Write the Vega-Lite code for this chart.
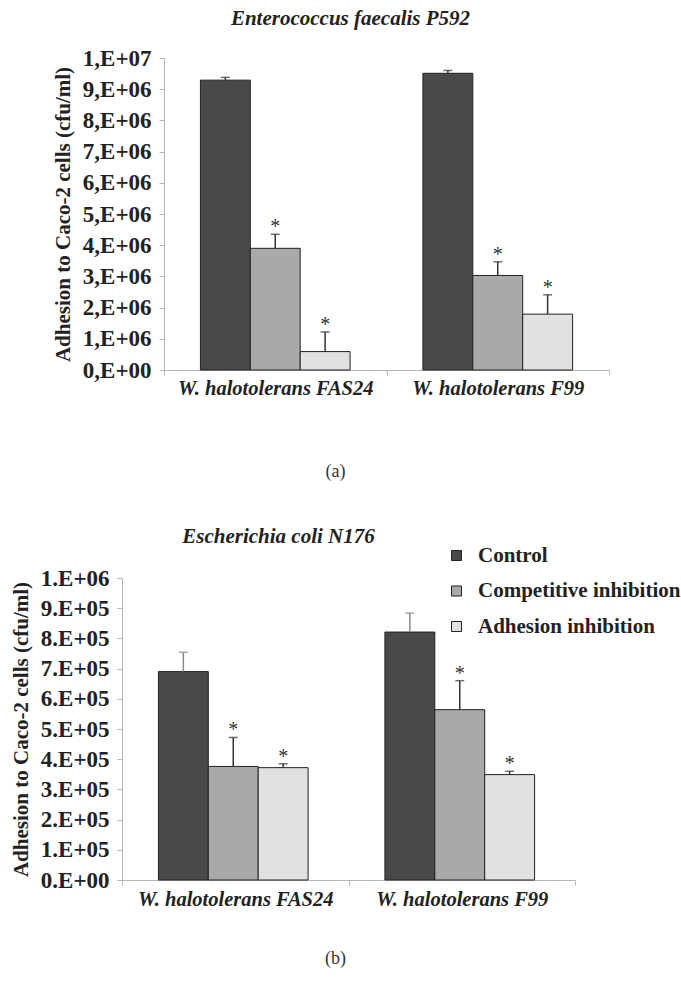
{
  "$schema": "https://vega.github.io/schema/vega-lite/v6.json",
  "background": "white",
  "padding": {"left": 10, "top": 8, "right": 0, "bottom": 5},
  "config": {"view": {"stroke": null}, "font": "Liberation Serif"},
  "bounds": "flush",
  "spacing": 208,
  "resolve": {"scale": {"color": "independent"}, "legend": {"color": "independent"}},
  "vconcat": [
    {
      "width": 487,
      "height": 312,
      "title": {"text": "Enterococcus faecalis P592", "font": "Liberation Serif", "fontSize": 21, "fontWeight": "bold", "fontStyle": "italic", "color": "#222", "anchor": "middle", "frame": "group", "dx": -15, "offset": 18},
      "data": {"values": [
        {"strain": "W. halotolerans FAS24", "treatment": "Control", "value": 9290000, "upper": 9380000, "sig": ""},
        {"strain": "W. halotolerans FAS24", "treatment": "Competitive inhibition", "value": 3900000, "upper": 4350000, "sig": "*"},
        {"strain": "W. halotolerans FAS24", "treatment": "Adhesion inhibition", "value": 590000, "upper": 1220000, "sig": "*"},
        {"strain": "W. halotolerans F99", "treatment": "Control", "value": 9510000, "upper": 9600000, "sig": ""},
        {"strain": "W. halotolerans F99", "treatment": "Competitive inhibition", "value": 3030000, "upper": 3470000, "sig": "*"},
        {"strain": "W. halotolerans F99", "treatment": "Adhesion inhibition", "value": 1790000, "upper": 2410000, "sig": "*"}
      ]},
      "encoding": {
        "x": {"field": "strain", "type": "nominal", "sort": ["W. halotolerans FAS24", "W. halotolerans F99"],
          "scale": {"range": [42, 487], "paddingInner": 0, "paddingOuter": 0},
          "axis": {"title": "(a)", "titleFont": "Liberation Serif", "titleFontSize": 18, "titleFontWeight": "normal", "titleColor": "#333", "titleX": 213, "titlePadding": 64,
            "labelAngle": 0, "labelFont": "Liberation Serif", "labelFontSize": 20.5, "labelFontWeight": "bold", "labelFontStyle": "italic", "labelColor": "#222", "labelPadding": 3,
            "domainColor": "#b5b5b5", "tickColor": "#b5b5b5", "tickSize": 5, "tickBand": "extent", "labelLimit": 400}},
        "xOffset": {"field": "treatment", "type": "nominal", "sort": ["Control", "Competitive inhibition", "Adhesion inhibition"], "scale": {"paddingInner": 0, "paddingOuter": 0.73}}
      },
      "layer": [
        {
          "mark": {"type": "bar", "stroke": "#222", "strokeWidth": 1},
          "encoding": {
            "y": {"field": "value", "type": "quantitative", "title": "Adhesion to Caco-2 cells (cfu/ml)", "scale": {"domain": [0, 10000000], "nice": false},
              "axis": {"offset": -42, "values": [0, 1000000, 2000000, 3000000, 4000000, 5000000, 6000000, 7000000, 8000000, 9000000, 10000000],
                "labelExpr": "datum.value == 0 ? '0,E+00' : (datum.value >= 10000000 ? '1,E+07' : round(datum.value / 1000000) + ',E+06')",
                "grid": false, "domainColor": "#b5b5b5", "tickColor": "#b5b5b5", "tickSize": 5,
                "labelFont": "Liberation Serif", "labelFontSize": 23, "labelFontWeight": "bold", "labelColor": "#222", "labelPadding": 8, "labelOverlap": false,
                "titleFont": "Liberation Serif", "titleFontSize": 21, "titleFontWeight": "bold", "titleColor": "#222", "titlePadding": 9}},
            "color": {"field": "treatment", "type": "nominal", "scale": {"domain": ["Control", "Competitive inhibition", "Adhesion inhibition"], "range": ["#48494b", "#a9a9a9", "#e1e1e1"]}, "legend": null}
          }
        },
        {
          "mark": {"type": "rule", "color": "#333", "strokeWidth": 1.5},
          "encoding": {
            "y": {"field": "value", "type": "quantitative", "title": "Adhesion to Caco-2 cells (cfu/ml)",
              "axis": {"offset": -42, "values": [0, 1000000, 2000000, 3000000, 4000000, 5000000, 6000000, 7000000, 8000000, 9000000, 10000000],
                "labelExpr": "datum.value == 0 ? '0,E+00' : (datum.value >= 10000000 ? '1,E+07' : round(datum.value / 1000000) + ',E+06')",
                "grid": false, "domainColor": "#b5b5b5", "tickColor": "#b5b5b5", "tickSize": 5,
                "labelFont": "Liberation Serif", "labelFontSize": 23, "labelFontWeight": "bold", "labelColor": "#222", "labelPadding": 8, "labelOverlap": false,
                "titleFont": "Liberation Serif", "titleFontSize": 21, "titleFontWeight": "bold", "titleColor": "#222", "titlePadding": 9}},
            "y2": {"field": "upper"}}
        },
        {
          "mark": {"type": "tick", "color": "#333", "size": 9, "thickness": 1.5},
          "encoding": {
            "y": {"field": "upper", "type": "quantitative", "title": "Adhesion to Caco-2 cells (cfu/ml)",
              "axis": {"offset": -42, "values": [0, 1000000, 2000000, 3000000, 4000000, 5000000, 6000000, 7000000, 8000000, 9000000, 10000000],
                "labelExpr": "datum.value == 0 ? '0,E+00' : (datum.value >= 10000000 ? '1,E+07' : round(datum.value / 1000000) + ',E+06')",
                "grid": false, "domainColor": "#b5b5b5", "tickColor": "#b5b5b5", "tickSize": 5,
                "labelFont": "Liberation Serif", "labelFontSize": 23, "labelFontWeight": "bold", "labelColor": "#222", "labelPadding": 8, "labelOverlap": false,
                "titleFont": "Liberation Serif", "titleFontSize": 21, "titleFontWeight": "bold", "titleColor": "#222", "titlePadding": 9}}}
        },
        {
          "mark": {"type": "text", "font": "Liberation Serif", "fontSize": 20, "color": "#333", "baseline": "alphabetic", "dy": -1},
          "encoding": {
            "y": {"field": "upper", "type": "quantitative", "title": "Adhesion to Caco-2 cells (cfu/ml)",
              "axis": {"offset": -42, "values": [0, 1000000, 2000000, 3000000, 4000000, 5000000, 6000000, 7000000, 8000000, 9000000, 10000000],
                "labelExpr": "datum.value == 0 ? '0,E+00' : (datum.value >= 10000000 ? '1,E+07' : round(datum.value / 1000000) + ',E+06')",
                "grid": false, "domainColor": "#b5b5b5", "tickColor": "#b5b5b5", "tickSize": 5,
                "labelFont": "Liberation Serif", "labelFontSize": 23, "labelFontWeight": "bold", "labelColor": "#222", "labelPadding": 8, "labelOverlap": false,
                "titleFont": "Liberation Serif", "titleFontSize": 21, "titleFontWeight": "bold", "titleColor": "#222", "titlePadding": 9}},
            "text": {"field": "sig"}}
        }
      ]
    },
    {
      "width": 453,
      "height": 302,
      "title": {"text": "Escherichia coli N176", "font": "Liberation Serif", "fontSize": 21, "fontWeight": "bold", "fontStyle": "italic", "color": "#222", "anchor": "middle", "frame": "group", "dx": -70, "offset": -2},
      "data": {"values": [
        {"strain": "W. halotolerans FAS24", "treatment": "Control", "value": 690000, "upper": 754000, "sig": ""},
        {"strain": "W. halotolerans FAS24", "treatment": "Competitive inhibition", "value": 376000, "upper": 472000, "sig": "*"},
        {"strain": "W. halotolerans FAS24", "treatment": "Adhesion inhibition", "value": 372000, "upper": 385000, "sig": "*"},
        {"strain": "W. halotolerans F99", "treatment": "Control", "value": 821000, "upper": 884000, "sig": ""},
        {"strain": "W. halotolerans F99", "treatment": "Competitive inhibition", "value": 564000, "upper": 660000, "sig": "*"},
        {"strain": "W. halotolerans F99", "treatment": "Adhesion inhibition", "value": 349000, "upper": 360000, "sig": "*"}
      ]},
      "encoding": {
        "x": {"field": "strain", "type": "nominal", "sort": ["W. halotolerans FAS24", "W. halotolerans F99"],
          "scale": {"paddingInner": 0, "paddingOuter": 0},
          "axis": {"title": "(b)", "titleFont": "Liberation Serif", "titleFontSize": 18, "titleFontWeight": "normal", "titleColor": "#333", "titleX": 213, "titlePadding": 40,
            "labelAngle": 0, "labelFont": "Liberation Serif", "labelFontSize": 20.5, "labelFontWeight": "bold", "labelFontStyle": "italic", "labelColor": "#222", "labelPadding": 4,
            "domainColor": "#b5b5b5", "tickColor": "#b5b5b5", "tickSize": 5, "tickBand": "extent", "labelLimit": 400}},
        "xOffset": {"field": "treatment", "type": "nominal", "sort": ["Control", "Competitive inhibition", "Adhesion inhibition"], "scale": {"paddingInner": 0, "paddingOuter": 0.75}}
      },
      "layer": [
        {
          "mark": {"type": "bar", "stroke": "#222", "strokeWidth": 1},
          "encoding": {
            "y": {"field": "value", "type": "quantitative", "title": "Adhesion to Caco-2 cells (cfu/ml)", "scale": {"domain": [0, 1000000], "nice": false},
              "axis": {"values": [0, 100000, 200000, 300000, 400000, 500000, 600000, 700000, 800000, 900000, 1000000],
                "labelExpr": "datum.value == 0 ? '0.E+00' : (datum.value >= 1000000 ? '1.E+06' : round(datum.value / 100000) + '.E+05')",
                "grid": false, "domainColor": "#b5b5b5", "tickColor": "#b5b5b5", "tickSize": 5,
                "labelFont": "Liberation Serif", "labelFontSize": 23, "labelFontWeight": "bold", "labelColor": "#222", "labelPadding": 8, "labelOverlap": false,
                "titleFont": "Liberation Serif", "titleFontSize": 21, "titleFontWeight": "bold", "titleColor": "#222", "titlePadding": 9}},
            "color": {"field": "treatment", "type": "nominal", "scale": {"domain": ["Control", "Competitive inhibition", "Adhesion inhibition"], "range": ["#48494b", "#a9a9a9", "#e1e1e1"]},
              "legend": {"orient": "none", "legendX": 324, "legendY": -33, "title": null, "symbolType": "square", "symbolSize": 100, "symbolStrokeColor": "#222", "symbolStrokeWidth": 1,
                "labelFont": "Liberation Serif", "labelFontSize": 21, "labelFontWeight": "bold", "labelColor": "#222", "labelOffset": 11, "rowPadding": 13.5, "padding": 0, "labelLimit": 400}}
          }
        },
        {
          "mark": {"type": "rule", "strokeWidth": 1.5},
          "encoding": {
            "y": {"field": "value", "type": "quantitative", "title": "Adhesion to Caco-2 cells (cfu/ml)",
              "axis": {"values": [0, 100000, 200000, 300000, 400000, 500000, 600000, 700000, 800000, 900000, 1000000],
                "labelExpr": "datum.value == 0 ? '0.E+00' : (datum.value >= 1000000 ? '1.E+06' : round(datum.value / 100000) + '.E+05')",
                "grid": false, "domainColor": "#b5b5b5", "tickColor": "#b5b5b5", "tickSize": 5,
                "labelFont": "Liberation Serif", "labelFontSize": 23, "labelFontWeight": "bold", "labelColor": "#222", "labelPadding": 8, "labelOverlap": false,
                "titleFont": "Liberation Serif", "titleFontSize": 21, "titleFontWeight": "bold", "titleColor": "#222", "titlePadding": 9}},
            "y2": {"field": "upper"},
            "color": {"condition": {"test": "datum.treatment == 'Control'", "value": "#888"}, "value": "#333"}}
        },
        {
          "mark": {"type": "tick", "size": 9, "thickness": 1.5},
          "encoding": {
            "y": {"field": "upper", "type": "quantitative", "title": "Adhesion to Caco-2 cells (cfu/ml)",
              "axis": {"values": [0, 100000, 200000, 300000, 400000, 500000, 600000, 700000, 800000, 900000, 1000000],
                "labelExpr": "datum.value == 0 ? '0.E+00' : (datum.value >= 1000000 ? '1.E+06' : round(datum.value / 100000) + '.E+05')",
                "grid": false, "domainColor": "#b5b5b5", "tickColor": "#b5b5b5", "tickSize": 5,
                "labelFont": "Liberation Serif", "labelFontSize": 23, "labelFontWeight": "bold", "labelColor": "#222", "labelPadding": 8, "labelOverlap": false,
                "titleFont": "Liberation Serif", "titleFontSize": 21, "titleFontWeight": "bold", "titleColor": "#222", "titlePadding": 9}},
            "color": {"condition": {"test": "datum.treatment == 'Control'", "value": "#888"}, "value": "#333"}}
        },
        {
          "mark": {"type": "text", "font": "Liberation Serif", "fontSize": 20, "color": "#333", "baseline": "alphabetic", "dy": -1},
          "encoding": {
            "y": {"field": "upper", "type": "quantitative", "title": "Adhesion to Caco-2 cells (cfu/ml)",
              "axis": {"values": [0, 100000, 200000, 300000, 400000, 500000, 600000, 700000, 800000, 900000, 1000000],
                "labelExpr": "datum.value == 0 ? '0.E+00' : (datum.value >= 1000000 ? '1.E+06' : round(datum.value / 100000) + '.E+05')",
                "grid": false, "domainColor": "#b5b5b5", "tickColor": "#b5b5b5", "tickSize": 5,
                "labelFont": "Liberation Serif", "labelFontSize": 23, "labelFontWeight": "bold", "labelColor": "#222", "labelPadding": 8, "labelOverlap": false,
                "titleFont": "Liberation Serif", "titleFontSize": 21, "titleFontWeight": "bold", "titleColor": "#222", "titlePadding": 9}},
            "text": {"field": "sig"}}
        }
      ]
    }
  ]
}
